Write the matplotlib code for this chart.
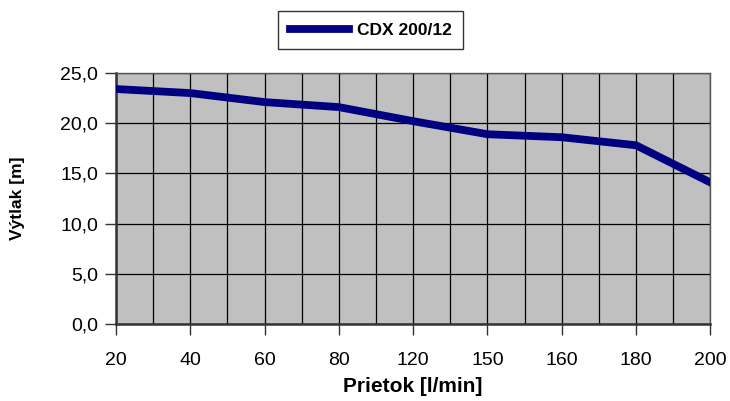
import matplotlib
matplotlib.use("Agg")
import matplotlib.pyplot as plt
from matplotlib.ticker import FixedLocator

plt.rcParams['font.family'] = ['Liberation Sans', 'DejaVu Sans']

# flow [l/min] categories and head [m]
prietok = ['20', '40', '60', '80', '120', '150', '160', '180', '200']
vytlak = [23.4, 23.0, 22.1, 21.6, 20.2, 18.9, 18.6, 17.8, 14.1]
y_ticks = [0, 5, 10, 15, 20, 25]

fig = plt.figure(figsize=(7.3, 4.01), dpi=100)
ax = fig.add_axes([0.159, 0.192, 0.814, 0.626])
ax.set_facecolor('#c0c0c0')

pos = list(range(len(prietok)))
line, = ax.plot(pos, vytlak, color='#000080', linewidth=5.6,
                solid_joinstyle='miter', label='CDX 200/12', zorder=3)

ax.set_xlim(0, len(prietok) - 1)
ax.set_ylim(0, 25)
ax.set_xticks(pos)
ax.set_xticklabels(prietok)
ax.xaxis.set_minor_locator(FixedLocator([p + 0.5 for p in pos[:-1]]))
ax.set_yticks(y_ticks)
ax.set_yticklabels([f"{v:.1f}".replace('.', ',') for v in y_ticks])

ax.grid(True, which='both', axis='x', color='black', linewidth=0.9, zorder=1)
ax.grid(True, which='major', axis='y', color='black', linewidth=0.9, zorder=1)
ax.set_axisbelow(True)

ax.tick_params(axis='both', which='major', direction='out', length=8,
               width=1, labelsize=14, color='#333333')
ax.tick_params(axis='y', which='major', pad=5)
ax.tick_params(axis='x', which='major', pad=12)
ax.tick_params(axis='x', which='minor', length=0)

for s in ['left', 'bottom']:
    ax.spines[s].set_linewidth(1.8)
    ax.spines[s].set_color('#333333')
for s in ['top', 'right']:
    ax.spines[s].set_linewidth(1.0)
    ax.spines[s].set_color('#555555')

ax.set_xlabel('Prietok [l/min]', fontsize=15, fontweight='bold', labelpad=6)
ax.set_ylabel('Výtlak [m]', fontsize=12.5, fontweight='bold', labelpad=25)

leg = fig.legend(handles=[line], loc='center', bbox_to_anchor=(0.508, 0.925),
                 frameon=True, fancybox=False, edgecolor='black',
                 prop={'weight': 'bold', 'size': 12.5}, handlelength=3.4,
                 borderpad=0.65, handletextpad=0.5, borderaxespad=0.3)
leg.get_frame().set_linewidth(1.0)

fig.savefig('out.png', dpi=100)
